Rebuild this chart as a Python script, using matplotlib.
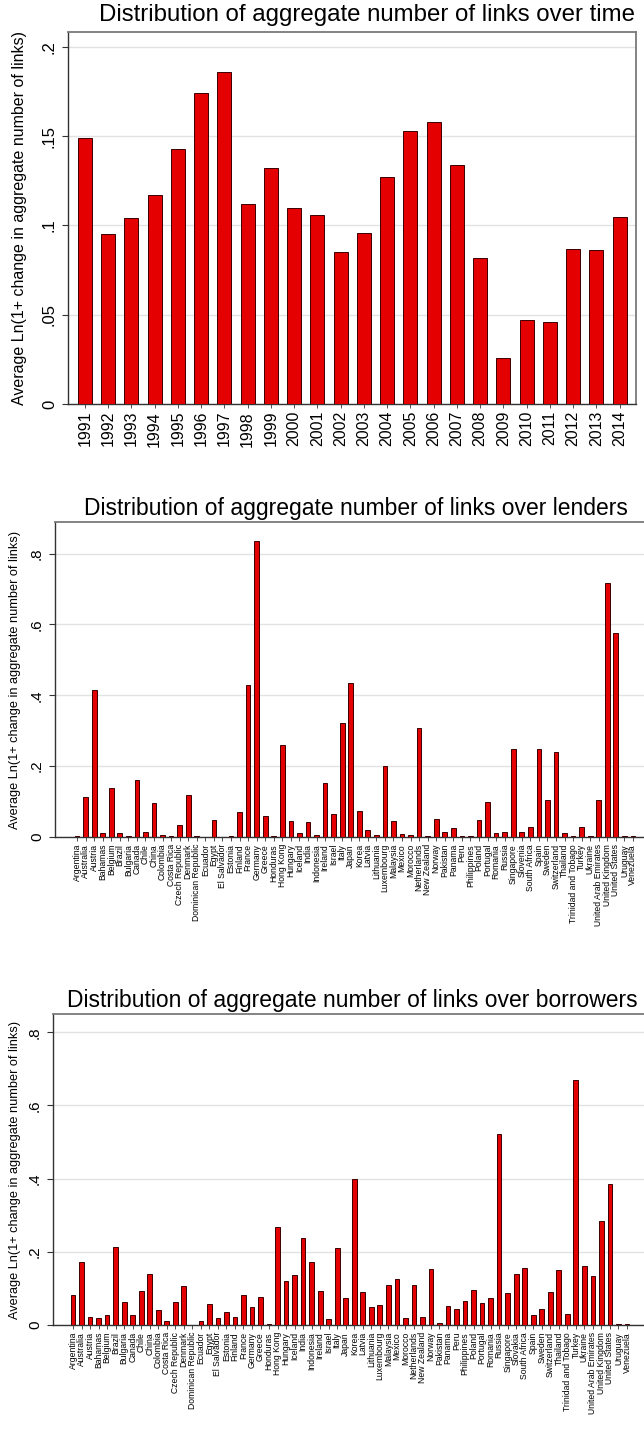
import numpy as np
import matplotlib
matplotlib.use("Agg")
import matplotlib.pyplot as plt
from matplotlib.ticker import FuncFormatter

plt.rcParams['font.family'] = ['Liberation Sans', 'DejaVu Sans']

years = [str(y) for y in range(1991, 2015)]
links_by_year = [0.149, 0.095, 0.104, 0.117, 0.143, 0.174, 0.186, 0.112,
                 0.132, 0.110, 0.106, 0.085, 0.096, 0.127, 0.153, 0.158,
                 0.134, 0.082, 0.026, 0.047, 0.046, 0.087, 0.086, 0.105]

lenders = ["Argentina", "Australia", "Austria", "Bahamas", "Belgium", "Brazil",
           "Bulgaria", "Canada", "Chile", "China", "Colombia", "Costa Rica",
           "Czech Republic", "Denmark", "Dominican Republic", "Ecuador", "Egypt",
           "El Salvador", "Estonia", "Finland", "France", "Germany", "Greece",
           "Honduras", "Hong Kong", "Hungary", "Iceland", "India", "Indonesia",
           "Ireland", "Israel", "Italy", "Japan", "Korea", "Latvia", "Lithuania",
           "Luxembourg", "Malaysia", "Mexico", "Morocco", "Netherlands",
           "New Zealand", "Norway", "Pakistan", "Panama", "Peru", "Philippines",
           "Poland", "Portugal", "Romania", "Russia", "Singapore", "Slovenia",
           "South Africa", "Spain", "Sweden", "Switzerland", "Thailand",
           "Trinidad and Tobago", "Turkey", "Ukraine", "United Arab Emirates",
           "United Kingdom", "United States", "Uruguay", "Venezuela"]
links_by_lender = [0.002, 0.113, 0.414, 0.010, 0.139, 0.010, 0.002, 0.162,
                   0.013, 0.096, 0.005, 0.003, 0.034, 0.118, 0.002, 0.0,
                   0.047, 0.0, 0.002, 0.071, 0.428, 0.836, 0.058, 0.002,
                   0.259, 0.045, 0.011, 0.042, 0.006, 0.151, 0.064, 0.323,
                   0.436, 0.073, 0.019, 0.005, 0.200, 0.045, 0.009, 0.005,
                   0.309, 0.002, 0.051, 0.015, 0.024, 0.002, 0.004, 0.047,
                   0.099, 0.011, 0.015, 0.248, 0.013, 0.027, 0.247, 0.105,
                   0.239, 0.011, 0.002, 0.027, 0.002, 0.105, 0.717, 0.576,
                   0.002, 0.002]

borrowers = ["Argentina", "Australia", "Austria", "Bahamas", "Belgium", "Brazil",
             "Bulgaria", "Canada", "Chile", "China", "Colombia", "Costa Rica",
             "Czech Republic", "Denmark", "Dominican Republic", "Ecuador", "Egypt",
             "El Salvador", "Estonia", "Finland", "France", "Germany", "Greece",
             "Honduras", "Hong Kong", "Hungary", "Iceland", "India", "Indonesia",
             "Ireland", "Israel", "Italy", "Japan", "Korea", "Latvia", "Lithuania",
             "Luxembourg", "Malaysia", "Mexico", "Morocco", "Netherlands",
             "New Zealand", "Norway", "Pakistan", "Panama", "Peru", "Philippines",
             "Poland", "Portugal", "Romania", "Russia", "Singapore", "Slovakia",
             "South Africa", "Spain", "Sweden", "Switzerland", "Thailand",
             "Trinidad and Tobago", "Turkey", "Ukraine", "United Arab Emirates",
             "United Kingdom", "United States", "Uruguay", "Venezuela"]
links_by_borrower = [0.082, 0.172, 0.023, 0.018, 0.027, 0.214, 0.062, 0.027,
                     0.093, 0.140, 0.041, 0.012, 0.062, 0.107, 0.0, 0.012,
                     0.057, 0.018, 0.036, 0.023, 0.082, 0.050, 0.076, 0.003,
                     0.267, 0.120, 0.138, 0.239, 0.172, 0.093, 0.016, 0.211,
                     0.075, 0.399, 0.091, 0.050, 0.054, 0.109, 0.125, 0.018,
                     0.109, 0.023, 0.152, 0.005, 0.052, 0.044, 0.066, 0.096,
                     0.061, 0.075, 0.521, 0.088, 0.139, 0.155, 0.026, 0.044,
                     0.089, 0.149, 0.029, 0.670, 0.161, 0.135, 0.285, 0.385,
                     0.003, 0.003]

ylab = "Average Ln(1+ change in aggregate number of links)"
W, H = 644, 1429


def fmt(v, pos):
    s = "%g" % v
    return s[1:] if s.startswith("0.") else s


def panel(rect, labels, values, title, yticks, ytop, xpad, width,
          title_xy, tsize, ysize, xsize, ylab_x, ylab_size):
    l, t, r, b = rect
    ax = fig.add_axes([l / W, 1 - b / H, (r - l) / W, (b - t) / H])
    x = np.arange(len(values))
    ax.bar(x, values, width=width, color='#e40000', edgecolor='#3a0000',
           linewidth=0.7, zorder=3)
    ax.set_xlim(-xpad[0], len(values) - 1 + xpad[1])
    ax.set_ylim(0, ytop)
    ax.set_yticks(yticks)
    ax.yaxis.set_major_formatter(FuncFormatter(fmt))
    ax.set_xticks(x)
    ax.set_xticklabels(labels, rotation=90, fontsize=xsize)
    for lab in ax.get_yticklabels():
        lab.set_rotation(90)
        lab.set_va('center')
    ax.tick_params(axis='y', labelsize=ysize, length=4, width=0.8,
                   color='#333333', pad=4)
    ax.tick_params(axis='x', length=3, width=0.6, color='#333333', pad=2)
    ax.grid(axis='y', color='#e2e2e2', linewidth=1.0, zorder=0)
    for side in ['left', 'bottom']:
        ax.spines[side].set_color('#333333')
        ax.spines[side].set_linewidth(1.0)
    for side in ['top', 'right']:
        ax.spines[side].set_color('#7a7a7a')
        ax.spines[side].set_linewidth(1.3)
    fig.text(title_xy[0] / W, 1 - title_xy[1] / H, title, ha='center',
             va='center', fontsize=tsize)
    fig.text(ylab_x / W, 1 - (t + b) / 2 / H, ylab, rotation=90,
             ha='center', va='center', fontsize=ylab_size)
    return ax


fig = plt.figure(figsize=(W / 100, H / 100), dpi=100)

panel((68, 32, 636, 404), years, links_by_year,
      "Distribution of aggregate number of links over time",
      [0, 0.05, 0.1, 0.15, 0.2], 0.2084, (0.73, 0.7), 0.6,
      (367, 15), 17.3, 12, 11.5, 20, 11.5)

panel((55, 522, 655, 837), lenders, links_by_lender,
      "Distribution of aggregate number of links over lenders",
      [0, 0.2, 0.4, 0.6, 0.8], 0.889, (2.58, 2.58), 0.55,
      (356, 508), 16.5, 11, 6.2, 15, 9.2)

panel((53, 1014, 647, 1325), borrowers, links_by_borrower,
      "Distribution of aggregate number of links over borrowers",
      [0, 0.2, 0.4, 0.6, 0.8], 0.85, (2.35, 2.35), 0.55,
      (352, 1000), 16.5, 11, 6.2, 15, 9.2)

fig.savefig("out.png", dpi=100)
